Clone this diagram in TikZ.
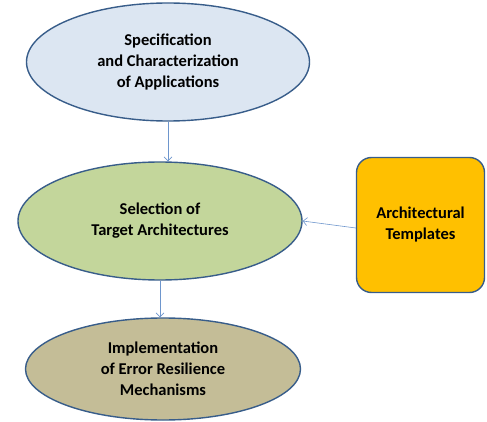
\documentclass[tikz,border=0pt]{standalone}
\usepackage{fontspec}
\setmainfont{Carlito}
\usetikzlibrary{shapes.geometric,arrows.meta}
\definecolor{edgeblue}{RGB}{56,93,138}
\definecolor{arrowblue}{RGB}{110,150,205}
\definecolor{specfill}{RGB}{220,230,242}
\definecolor{selfill}{RGB}{195,214,155}
\definecolor{implfill}{RGB}{196,189,151}
\definecolor{tmplfill}{RGB}{255,192,0}

\begin{document}
\begin{tikzpicture}[x=1pt,y=1pt,
    stage/.style={ellipse,draw=edgeblue,line width=1.4pt,inner sep=0pt,
      align=center,font=\bfseries\fontsize{16.5}{21}\selectfont},
    flow/.style={draw=arrowblue,line width=0.6pt,-{Straight Barb[length=4pt,width=8pt]}}]
    \useasboundingbox (0,0) rectangle (487,-422);
    \node [stage,fill=specfill,minimum width=283pt,minimum height=118pt] (spec) at (168,-62)
    {Specification\\and Characterization\\of Applications};
    \node [stage,fill=selfill,minimum width=284pt,minimum height=118pt] (sel) at (160,-221)
    {Selection of\\Target Architectures};
    \node [stage,fill=implfill,minimum width=275pt,minimum height=102pt] (impl) at (163,-369)
    {Implementation\\of Error Resilience\\Mechanisms};
    \node [draw=edgeblue,line width=1.4pt,fill=tmplfill,rounded corners=15pt,
      minimum width=128pt,minimum height=135pt,align=center,
      font=\bfseries\fontsize{16.5}{21}\selectfont] (tmpl) at (420.5,-225)
    {Architectural\\Templates};
    \draw [flow] (spec.south) -- (spec.south |- sel.north);
    \draw [flow] (tmpl.west |- 0,-228) -- (sel.east);
    \draw [flow] (sel.south) -- (sel.south |- impl.north);
\end{tikzpicture}
\end{document}
